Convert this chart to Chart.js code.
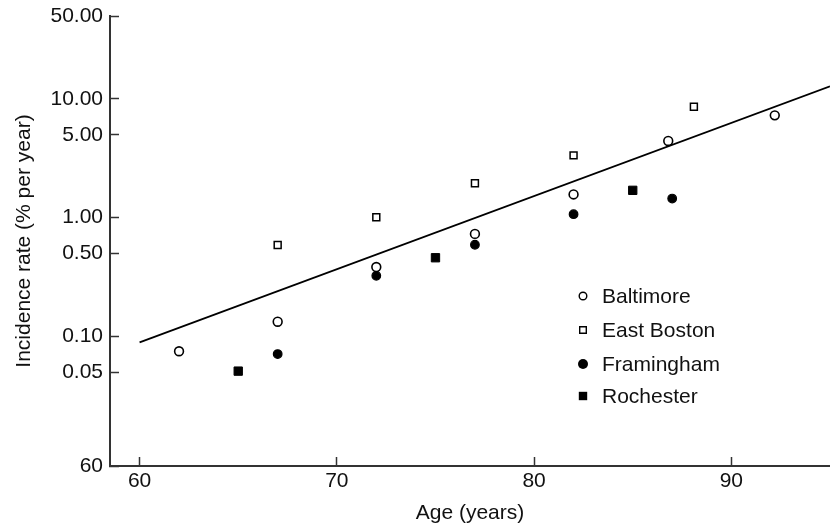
<!DOCTYPE html>
<html>
<head>
<meta charset="utf-8">
<title>Incidence rate by age</title>
<script src="https://cdn.jsdelivr.net/npm/chart.js@4/dist/chart.umd.min.js"></script>
<style>
  html, body { margin: 0; padding: 0; background: #fff; }
  #wrap { width: 830px; height: 527px; }
</style>
</head>
<body>
<div id="wrap"><canvas id="chart" width="830" height="527"></canvas></div>
<script>
// values
var baltimoreAge = [62, 67, 72, 77, 82, 86.8, 92.2];
var baltimoreRate = [0.075, 0.133, 0.384, 0.73, 1.57, 4.43, 7.28];

var eastBostonAge = [67, 72, 77, 82, 88.1];
var eastBostonRate = [0.589, 1.01, 1.95, 3.35, 8.61];

var framinghamAge = [67, 72, 77, 82, 87];
var framinghamRate = [0.071, 0.324, 0.592, 1.07, 1.45];

var rochesterAge = [65, 75, 85];
var rochesterRate = [0.051, 0.46, 1.70];

// fitted line (two ends)
var fitAge = [60, 95];
var fitRate = [0.089, 12.8];

var xTicks = [60, 70, 80, 90];
var yTicks = [0.0081, 0.05, 0.1, 0.5, 1, 5, 10, 50];
var yTickLabels = ['60', '0.05', '0.10', '0.50', '1.00', '5.00', '10.00', '50.00'];

var seriesNames = ['Baltimore', 'East Boston', 'Framingham', 'Rochester'];

function toPoints(xs, ys) {
  return xs.map(function (x, i) { return {x: x, y: ys[i]}; });
}

var FONT = 'Liberation Sans, Arial, Helvetica, sans-serif';
var INK = '#111';
var AXIS = '#333';

Chart.defaults.font.family = FONT;
Chart.defaults.font.size = 21;
Chart.defaults.color = INK;

// keep the plot box fixed: no extra room for overhanging labels
function noPadding(scale) {
  scale.paddingTop = 0;
  scale.paddingBottom = 0;
  scale.paddingLeft = 0;
  scale.paddingRight = 0;
}

// legend drawn inside the plot, lower right
var insideLegend = {
  id: 'insideLegend',
  afterDatasetsDraw: function (chart) {
    var ctx = chart.ctx;
    var rows = [296, 330, 364, 396];
    var mx = 583, tx = 602;
    ctx.save();
    ctx.font = '21px ' + FONT;
    ctx.textBaseline = 'middle';
    ctx.textAlign = 'left';
    ctx.lineWidth = 1.4;
    ctx.strokeStyle = '#000';
    for (var i = 0; i < seriesNames.length; i++) {
      var y = rows[i];
      ctx.beginPath();
      if (i === 0) {
        ctx.arc(mx, y, 3.8, 0, Math.PI * 2);
        ctx.fillStyle = '#fff'; ctx.fill(); ctx.stroke();
      } else if (i === 1) {
        ctx.rect(mx - 3.3, y - 3.3, 6.6, 6.6);
        ctx.fillStyle = '#fff'; ctx.fill(); ctx.stroke();
      } else if (i === 2) {
        ctx.arc(mx, y, 5, 0, Math.PI * 2);
        ctx.fillStyle = '#000'; ctx.fill();
      } else {
        ctx.rect(mx - 4.2, y - 4.2, 8.4, 8.4);
        ctx.fillStyle = '#000'; ctx.fill();
      }
      ctx.fillStyle = INK;
      ctx.fillText(seriesNames[i], tx, y + 1);
    }
    ctx.restore();
  }
};

var ctx = document.getElementById('chart').getContext('2d');
var chart = new Chart(ctx, {
  type: 'scatter',
  data: {
    datasets: [
      {
        label: 'fit',
        type: 'line',
        data: toPoints(fitAge, fitRate),
        borderColor: '#000',
        borderWidth: 1.8,
        pointRadius: 0,
        fill: false
      },
      {
        label: seriesNames[0],
        data: toPoints(baltimoreAge, baltimoreRate),
        pointStyle: 'circle',
        pointRadius: 4.4,
        borderWidth: 1.6,
        borderColor: '#000',
        backgroundColor: '#fff'
      },
      {
        label: seriesNames[1],
        data: toPoints(eastBostonAge, eastBostonRate),
        pointStyle: 'rect',
        pointRadius: 4.9,
        borderWidth: 1.5,
        borderColor: '#000',
        backgroundColor: '#fff'
      },
      {
        label: seriesNames[2],
        data: toPoints(framinghamAge, framinghamRate),
        pointStyle: 'circle',
        pointRadius: 4.3,
        borderWidth: 1.2,
        borderColor: '#000',
        backgroundColor: '#000'
      },
      {
        label: seriesNames[3],
        data: toPoints(rochesterAge, rochesterRate),
        pointStyle: 'rect',
        pointRadius: 5.9,
        borderWidth: 1,
        borderColor: '#000',
        backgroundColor: '#000'
      }
    ]
  },
  options: {
    responsive: false,
    animation: false,
    layout: {
      autoPadding: false,
      padding: {top: 16, right: 0, bottom: 0, left: 0}
    },
    plugins: {
      legend: {display: false},
      tooltip: {enabled: false}
    },
    scales: {
      x: {
        type: 'linear',
        position: 'bottom',
        min: 58.5,
        max: 95,
        bounds: 'data',
        afterBuildTicks: function (scale) {
          scale.ticks = xTicks.map(function (v) { return {value: v}; });
        },
        afterFit: function (scale) {
          scale.height = 61;
          noPadding(scale);
        },
        ticks: {
          padding: 12,
          color: INK,
          maxRotation: 0,
          autoSkip: false,
          callback: function (v) { return String(v); }
        },
        grid: {
          drawOnChartArea: false,
          drawTicks: true,
          tickLength: -9,
          tickColor: AXIS,
          tickWidth: 1.5
        },
        border: {display: true, color: AXIS, width: 2},
        title: {
          display: true,
          text: 'Age (years)',
          color: INK,
          font: {size: 21},
          padding: {top: 0, bottom: 1}
        }
      },
      y: {
        type: 'logarithmic',
        position: 'left',
        min: yTicks[0],
        max: 50,
        bounds: 'data',
        afterBuildTicks: function (scale) {
          scale.ticks = yTicks.map(function (v) { return {value: v}; });
        },
        afterFit: function (scale) {
          scale.width = 110;
          noPadding(scale);
        },
        ticks: {
          padding: 16,
          color: INK,
          autoSkip: false,
          callback: function (v) {
            var i = yTicks.indexOf(v);
            return i >= 0 ? yTickLabels[i] : '';
          }
        },
        grid: {
          drawOnChartArea: false,
          drawTicks: true,
          tickLength: -9,
          tickColor: AXIS,
          tickWidth: 1.5
        },
        border: {display: true, color: AXIS, width: 2},
        title: {
          display: true,
          text: 'Incidence rate (% per year)',
          color: INK,
          font: {size: 21},
          padding: {top: 12, bottom: 0}
        }
      }
    }
  },
  plugins: [insideLegend]
});
</script>
</body>
</html>
